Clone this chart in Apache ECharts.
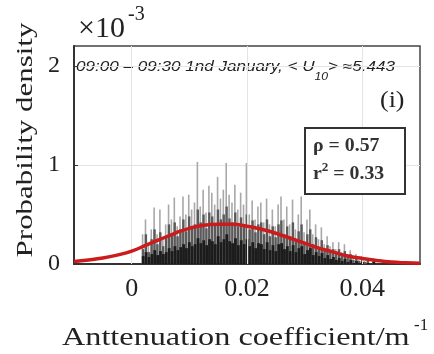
<!DOCTYPE html>
<html>
<head>
<meta charset="utf-8">
<script src="https://cdn.jsdelivr.net/npm/echarts@6/dist/echarts.min.js"></script>
<style>
  html, body { margin: 0; padding: 0; background: #fff; }
  #chart { width: 434px; height: 354px; }
</style>
</head>
<body>
<div id="chart"></div>
<script>
// Histogram bin centres (attenuation coefficient, 1/m)
const binCenters = [
  0.0020,0.0025,0.0030,0.0035,0.0040,0.0045,0.0050,0.0055,0.0060,0.0065,
  0.0070,0.0075,0.0080,0.0085,0.0090,0.0095,0.0100,0.0105,0.0110,0.0115,
  0.0120,0.0125,0.0130,0.0135,0.0140,0.0145,0.0150,0.0155,0.0160,0.0165,
  0.0170,0.0175,0.0180,0.0185,0.0190,0.0195,0.0200,0.0205,0.0210,0.0215,
  0.0220,0.0225,0.0230,0.0235,0.0240,0.0245,0.0250,0.0255,0.0260,0.0265,
  0.0270,0.0275,0.0280,0.0285,0.0290,0.0295,0.0300,0.0305,0.0310,0.0315,
  0.0320,0.0325,0.0330,0.0335,0.0340,0.0345,0.0350,0.0355,0.0360,0.0365,
  0.0370,0.0375,0.0380,0.0385,0.0390,0.0395,0.0400,0.0405,0.0410,0.0415,
  0.0420
];
// Probability density (x1e-3): tallest light spikes
const spikeDensity = [
  0.30,0.45,0.20,0.35,0.57,0.30,0.55,0.25,0.40,0.60,
  0.45,0.67,0.38,0.48,0.68,0.50,0.70,0.55,0.62,1.03,
  0.58,0.75,0.52,0.79,0.72,0.60,0.88,0.66,0.75,1.02,
  0.70,0.62,0.80,0.55,0.72,0.60,1.02,0.50,0.64,0.45,
  0.58,0.62,0.42,0.66,0.40,0.55,0.38,0.60,0.68,0.45,
  0.58,0.40,0.65,0.35,0.50,0.68,0.32,0.45,0.55,0.30,
  0.40,0.25,0.37,0.20,0.28,0.18,0.22,0.15,0.22,0.12,
  0.20,0.10,0.14,0.06,0.10,0.04,0.08,0.03,0.05,0.00,
  0.06
];
// Probability density (x1e-3): mid-grey layer
const midDensity = [
  0.15,0.30,0.12,0.25,0.35,0.20,0.32,0.18,0.28,0.40,
  0.30,0.42,0.28,0.35,0.45,0.33,0.48,0.38,0.40,0.55,
  0.42,0.50,0.36,0.52,0.48,0.40,0.55,0.45,0.50,0.58,
  0.46,0.42,0.52,0.38,0.47,0.40,0.50,0.35,0.44,0.32,
  0.40,0.42,0.30,0.45,0.28,0.38,0.27,0.40,0.44,0.30,
  0.38,0.28,0.42,0.25,0.33,0.40,0.22,0.30,0.35,0.20,
  0.27,0.17,0.24,0.14,0.19,0.12,0.15,0.10,0.15,0.08,
  0.13,0.07,0.10,0.04,0.07,0.03,0.05,0.02,0.04,0.00,
  0.04
];
// Probability density (x1e-3): dense dark base
const baseDensity = [
  0.08,0.12,0.07,0.10,0.14,0.09,0.13,0.10,0.12,0.16,
  0.13,0.18,0.14,0.17,0.20,0.16,0.22,0.18,0.20,0.26,
  0.21,0.24,0.19,0.25,0.23,0.20,0.28,0.22,0.25,0.30,
  0.23,0.21,0.26,0.19,0.24,0.20,0.25,0.18,0.22,0.16,
  0.21,0.20,0.15,0.22,0.14,0.19,0.13,0.20,0.21,0.15,
  0.18,0.13,0.19,0.12,0.16,0.18,0.10,0.14,0.16,0.09,
  0.12,0.08,0.11,0.06,0.09,0.05,0.07,0.04,0.06,0.03,
  0.05,0.02,0.04,0.01,0.03,0.01,0.02,0.00,0.01,0.00,
  0.02
];
// Fitted density curve
const fitX = [
  -0.0100,-0.0075,-0.0050,-0.0025,0.0000,0.0025,0.0050,0.0075,0.0100,0.0125,
  0.0150,0.0175,0.0200,0.0225,0.0250,0.0275,0.0300,0.0325,0.0350,0.0375,
  0.0400,0.0425,0.0450,0.0475,0.0500
];
const fitDensity = [
  0.025,0.040,0.060,0.090,0.130,0.190,0.250,0.310,0.360,0.390,
  0.400,0.400,0.380,0.350,0.310,0.260,0.210,0.160,0.120,0.080,
  0.055,0.035,0.020,0.012,0.007
];
const xTicks = [0, 0.02, 0.04];
const xTickLabels = ['0', '0.02', '0.04'];
const yTicks = [0, 1, 2];
const stats = { rho: '0.57', r2: '0.33' };

const SERIF = "'Liberation Serif', 'Times New Roman', serif";
const SANS = "'Liberation Sans', Arial, sans-serif";

const pairs = (xs, ys) => xs.map((x, i) => [x, ys[i]]);

const chart = echarts.init(document.getElementById('chart'), null, { renderer: 'canvas' });

const barCommon = {
  type: 'bar',
  barGap: '-100%',
  silent: true,
  z: 2
};

chart.setOption({
  animation: false,
  backgroundColor: '#fff',
  grid: {
    left: 74, right: 14, top: 46, bottom: 90,
    show: true, borderColor: '#444', borderWidth: 1.5,
    backgroundColor: 'transparent'
  },
  xAxis: {
    type: 'value',
    min: -0.01, max: 0.05,
    axisLine: { show: true, onZero: false, lineStyle: { color: '#333', width: 2 } },
    axisTick: { show: true, inside: true, length: 4, customValues: xTicks, lineStyle: { color: '#333' } },
    axisLabel: {
      customValues: xTicks,
      formatter: v => xTickLabels[xTicks.findIndex(t => Math.abs(t - v) < 1e-9)] ?? '',
      fontFamily: SERIF, fontSize: 26, color: '#222', margin: 12
    },
    splitLine: { show: false }
  },
  yAxis: {
    type: 'value',
    min: 0, max: 2.2, interval: 1,
    axisLine: { show: true, onZero: false, lineStyle: { color: '#333', width: 2 } },
    axisTick: { show: true, inside: true, length: 4, customValues: yTicks, lineStyle: { color: '#333' } },
    axisLabel: {
      customValues: yTicks,
      fontFamily: SERIF, fontSize: 24, color: '#222', margin: 14
    },
    splitLine: { show: true, lineStyle: { color: '#e4e4e4', width: 1 } }
  },
  series: [
    {
      // vertical grid lines at the x ticks
      type: 'scatter', data: [], silent: true, z: 1,
      markLine: {
        silent: true, symbol: 'none', animation: false,
        label: { show: false },
        lineStyle: { color: '#e4e4e4', width: 1, type: 'solid' },
        data: xTicks.map(t => ({ xAxis: t }))
      }
    },
    Object.assign({}, barCommon, { name: 'spikes', barWidth: 1.6, data: pairs(binCenters, spikeDensity), itemStyle: { color: '#a8a8a8' } }),
    Object.assign({}, barCommon, { name: 'mid', barWidth: 2.4, data: pairs(binCenters, midDensity), itemStyle: { color: '#5a5a5a' } }),
    Object.assign({}, barCommon, { name: 'base', barWidth: 2.8, data: pairs(binCenters, baseDensity), itemStyle: { color: '#1c1c1c' } }),
    {
      name: 'fit', type: 'line', smooth: true, showSymbol: false, silent: true, z: 5,
      data: pairs(fitX, fitDensity),
      lineStyle: { color: '#cc1b1b', width: 3.5 }
    }
  ],
  graphic: [
    // axis exponent
    { type: 'text', x: 78, y: 29, style: { text: '×10', font: '30px ' + SERIF, fill: '#222', textAlign: 'left', textVerticalAlign: 'middle' } },
    { type: 'text', x: 128, y: 15, style: { text: '-3', font: '20px ' + SERIF, fill: '#222', textAlign: 'left', textVerticalAlign: 'middle' } },
    // y axis title
    { type: 'text', x: 26, y: 140, rotation: Math.PI / 2, scaleX: 1.29,
      style: { text: 'Probability density', font: '24px ' + SERIF, fill: '#222', textAlign: 'center', textVerticalAlign: 'middle' } },
    // x axis title
    { type: 'text', x: 62, y: 338, scaleX: 1.24,
      style: { text: 'Anttenuation coefficient/m', font: '26px ' + SERIF, fill: '#222', textAlign: 'left', textVerticalAlign: 'middle' } },
    { type: 'text', x: 414, y: 326, style: { text: '-1', font: '17px ' + SERIF, fill: '#222', textAlign: 'left', textVerticalAlign: 'middle' } },
    // time window annotation
    { type: 'text', x: 76, y: 67, scaleX: 1.22,
      style: {
        text: '{t|09:00 – 09:30 1nd January, < U}{s|10}{t|> ≈5.443}',
        textAlign: 'left', textVerticalAlign: 'middle',
        rich: {
          t: { fontFamily: SANS, fontStyle: 'italic', fontSize: 14, lineHeight: 30, verticalAlign: 'middle', fill: '#222' },
          s: { fontFamily: SANS, fontStyle: 'italic', fontSize: 10, lineHeight: 14, verticalAlign: 'bottom', fill: '#222' }
        }
      }
    },
    // panel tag
    { type: 'text', x: 380, y: 101, scaleX: 1.08, style: { text: '(i)', font: '24px ' + SERIF, fill: '#222', textAlign: 'left', textVerticalAlign: 'middle' } },
    // statistics box
    { type: 'rect', shape: { x: 305, y: 128, width: 100, height: 66 }, style: { fill: '#fff', stroke: '#333', lineWidth: 2 }, z: 10 },
    { type: 'text', x: 313, y: 146, scaleX: 1.1, z: 11,
      style: { text: 'ρ = ' + stats.rho, font: 'bold 18px ' + SERIF, fill: '#333', textAlign: 'left', textVerticalAlign: 'middle' } },
    { type: 'text', x: 313, y: 174, scaleX: 1.1, z: 11,
      style: { text: '{b|r}{sup|2}{b| = ' + stats.r2 + '}', textAlign: 'left', textVerticalAlign: 'middle',
        rich: {
          b: { fontFamily: SERIF, fontWeight: 'bold', fontSize: 18, lineHeight: 24, verticalAlign: 'middle', fill: '#333' },
          sup: { fontFamily: SERIF, fontWeight: 'bold', fontSize: 12, lineHeight: 12, verticalAlign: 'top', fill: '#333' }
        }
      }
    }
  ]
});
</script>
</body>
</html>
